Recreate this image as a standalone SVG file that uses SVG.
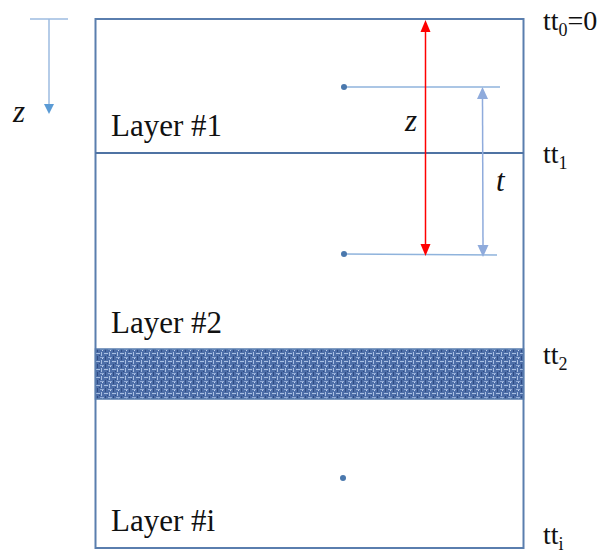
<svg xmlns="http://www.w3.org/2000/svg" width="608" height="553" viewBox="0 0 608 553" style="font-family:'Liberation Serif','Times New Roman',serif">
<defs>
<pattern id="weave" width="8" height="8" patternUnits="userSpaceOnUse">
<rect width="8" height="8" fill="#4d6ea8"/>
<rect x="0" y="1" width="4" height="1" fill="#a9bfe2"/>
<rect x="5" y="0" width="1" height="4" fill="#a9bfe2"/>
<rect x="4" y="5" width="4" height="1" fill="#93acd8"/>
<rect x="1" y="4" width="1" height="4" fill="#2f4c85"/>
<rect x="6" y="6" width="1" height="1" fill="#c3d3ee"/>
<rect x="3" y="3" width="1" height="1" fill="#2f4c85"/>
</pattern>
</defs>
<rect width="608" height="553" fill="#fff"/>
<g id="axis">
<line x1="30" y1="19" x2="68" y2="19" stroke="#9dbbe0" stroke-width="1.5"/>
<line x1="49" y1="19" x2="49" y2="105" stroke="#9dbbe0" stroke-width="1.5"/>
<polygon points="44,104 54,104 49,114" fill="#5b9bd5"/>
<text x="13" y="122" font-size="31" font-style="italic" fill="#111" font-family="'Liberation Serif', serif" style="font-family:'Liberation Serif',serif">z</text>
</g>
<g id="layer1">
<rect x="95.5" y="19" width="428" height="529" fill="none" stroke="#5a7eae" stroke-width="2"/>
<line x1="95.5" y1="153" x2="523.5" y2="153" stroke="#4f73a3" stroke-width="2"/>
<text x="111" y="136" font-size="31" fill="#111" font-family="'Liberation Serif', serif" style="font-family:'Liberation Serif',serif">Layer #1</text>
</g>
<g id="layer2">
<text x="111" y="333" font-size="31" fill="#111" font-family="'Liberation Serif', serif" style="font-family:'Liberation Serif',serif">Layer #2</text>
<rect x="95.5" y="349" width="428" height="50" fill="url(#weave)" stroke="#5a7eae" stroke-width="1.5"/>
</g>
<g id="layeri">
<text x="111" y="531" font-size="31" fill="#111" font-family="'Liberation Serif', serif" style="font-family:'Liberation Serif',serif">Layer #i</text>
<circle cx="343" cy="478" r="3" fill="#4a78ad"/>
</g>
<g id="points">
<line x1="344" y1="87" x2="500" y2="87" stroke="#8fb3dc" stroke-width="1.5"/>
<circle cx="344" cy="87" r="3" fill="#4a78ad"/>
<line x1="344" y1="254" x2="497" y2="255" stroke="#8fb3dc" stroke-width="1.5"/>
<circle cx="344" cy="254" r="3" fill="#4a78ad"/>
</g>
<g id="connectors">
<line x1="425.5" y1="30" x2="425.5" y2="246" stroke="#ff0000" stroke-width="1.5"/>
<polygon points="420.5,32 430.5,32 425.5,20" fill="#ff0000"/>
<polygon points="420.5,244 430.5,244 425.5,256" fill="#ff0000"/>
<line x1="482.5" y1="97" x2="483" y2="247" stroke="#8fabdc" stroke-width="1.5"/>
<polygon points="477,99 488,99 482.5,87" fill="#8fabdc"/>
<polygon points="477.5,245 488.5,245 483,257" fill="#8fabdc"/>
<text x="405" y="131" font-size="31" font-style="italic" fill="#111" font-family="'Liberation Serif', serif" style="font-family:'Liberation Serif',serif">z</text>
<text x="496" y="191" font-size="31" font-style="italic" fill="#111" font-family="'Liberation Serif', serif" style="font-family:'Liberation Serif',serif">t</text>
</g>
<g id="ticks">
<text x="543" y="30" font-size="28" fill="#111" font-family="'Liberation Serif', serif" style="font-family:'Liberation Serif',serif">tt<tspan font-size="18" dy="6">0</tspan><tspan dy="-6">=0</tspan></text>
<text x="543" y="163" font-size="28" fill="#111" font-family="'Liberation Serif', serif" style="font-family:'Liberation Serif',serif">tt<tspan font-size="18" dy="6">1</tspan></text>
<text x="543" y="364" font-size="28" fill="#111" font-family="'Liberation Serif', serif" style="font-family:'Liberation Serif',serif">tt<tspan font-size="18" dy="6">2</tspan></text>
<text x="543" y="544" font-size="28" fill="#111" font-family="'Liberation Serif', serif" style="font-family:'Liberation Serif',serif">tt<tspan font-size="18" dy="6">i</tspan></text>
</g>
</svg>
